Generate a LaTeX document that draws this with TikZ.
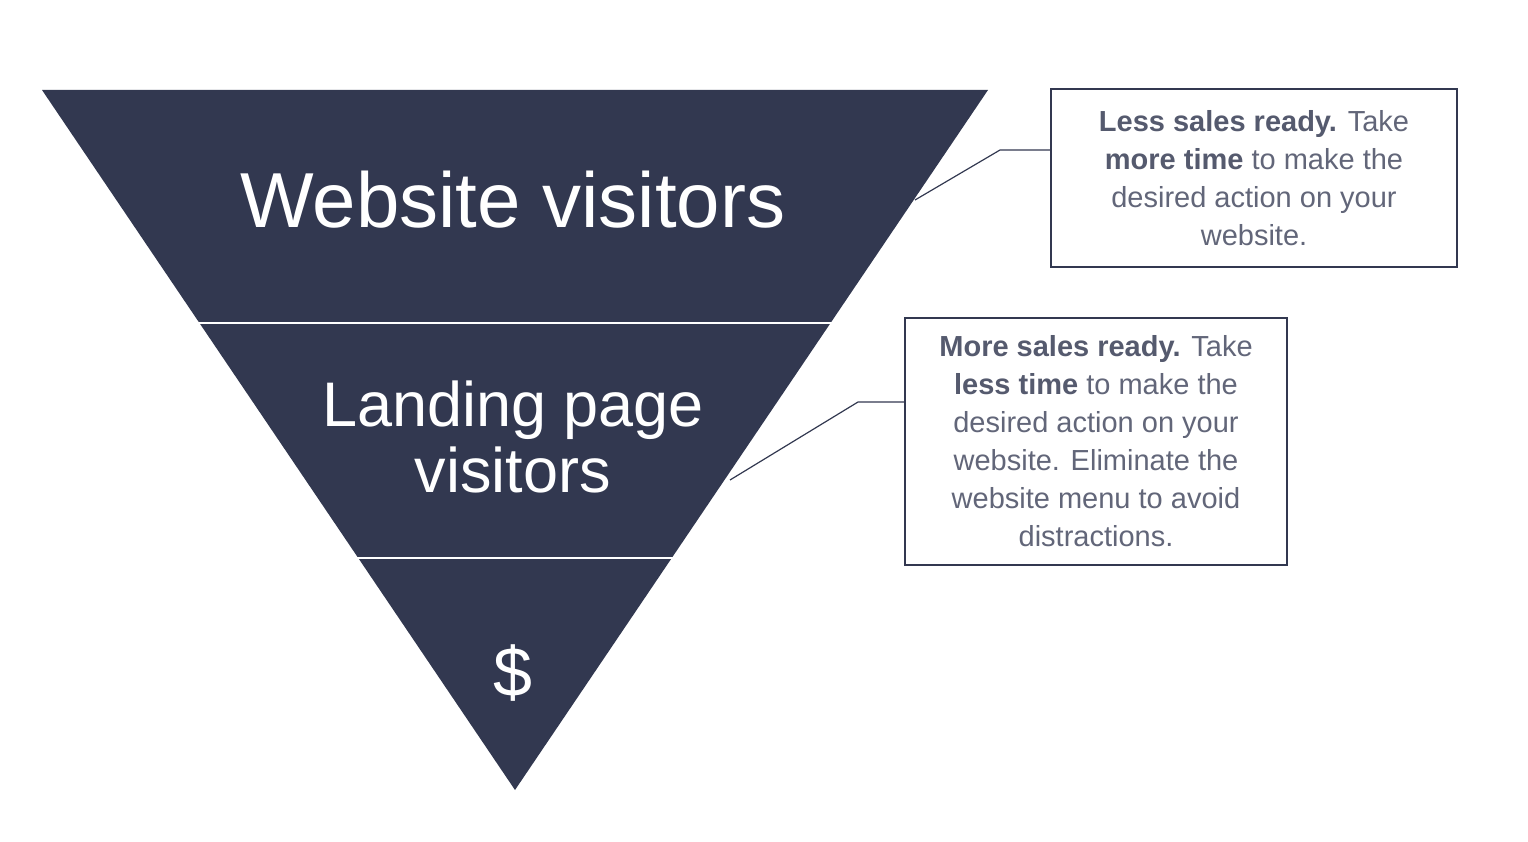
\documentclass[tikz,border=0pt]{standalone}
\usepackage{fontspec}
\setmainfont{Liberation Sans}
\definecolor{navy}{HTML}{323850}
\definecolor{txt}{HTML}{626679}
\definecolor{txtb}{HTML}{555A6E}
\begin{document}
\begin{tikzpicture}[x=1pt,y=-1pt,
  lbl/.style={text=white,align=center,inner sep=0},
  note/.style={draw=navy,line width=1.2pt,fill=white,text=txt,align=center,inner sep=0,font=\fontsize{29}{38}\selectfont},
  conn/.style={draw=navy,line width=1.2pt}]
\useasboundingbox (0,0) rectangle (1528,842);
\fill[navy] (42,90) -- (988,90) -- (515,790) -- cycle;
\draw[white,line width=1.5pt] (198,323) -- (833,323);
\draw[white,line width=1.5pt] (356,558) -- (674,558);
\node[lbl,font=\fontsize{78}{80}\selectfont] (a) at (513,200) {Website visitors};
\node[lbl,font=\fontsize{63}{66}\selectfont] (b) at (513,437) {Landing page\\visitors};
\node[lbl,font=\fontsize{70}{72}\selectfont] (c) at (513,673) {\$};
\node[note,minimum width=406pt,minimum height=178pt] (n1) at (1254,178) {{\color{txtb}\bfseries Less sales ready.} Take\\{\color{txtb}\bfseries more time} to make the\\desired action on your\\website.};
\node[note,minimum width=382pt,minimum height=247pt] (n2) at (1096,441.5) {{\color{txtb}\bfseries More sales ready.} Take\\{\color{txtb}\bfseries less time} to make the\\desired action on your\\website. Eliminate the\\website menu to avoid\\distractions.};
\coordinate (p1) at (915,200);
\coordinate (p2) at (730,480);
\draw[conn] (p1) -- (1000,150) -- (n1.west |- 0,150);
\draw[conn] (p2) -- (858,402) -- (n2.west |- 0,402);
\end{tikzpicture}
\end{document}
